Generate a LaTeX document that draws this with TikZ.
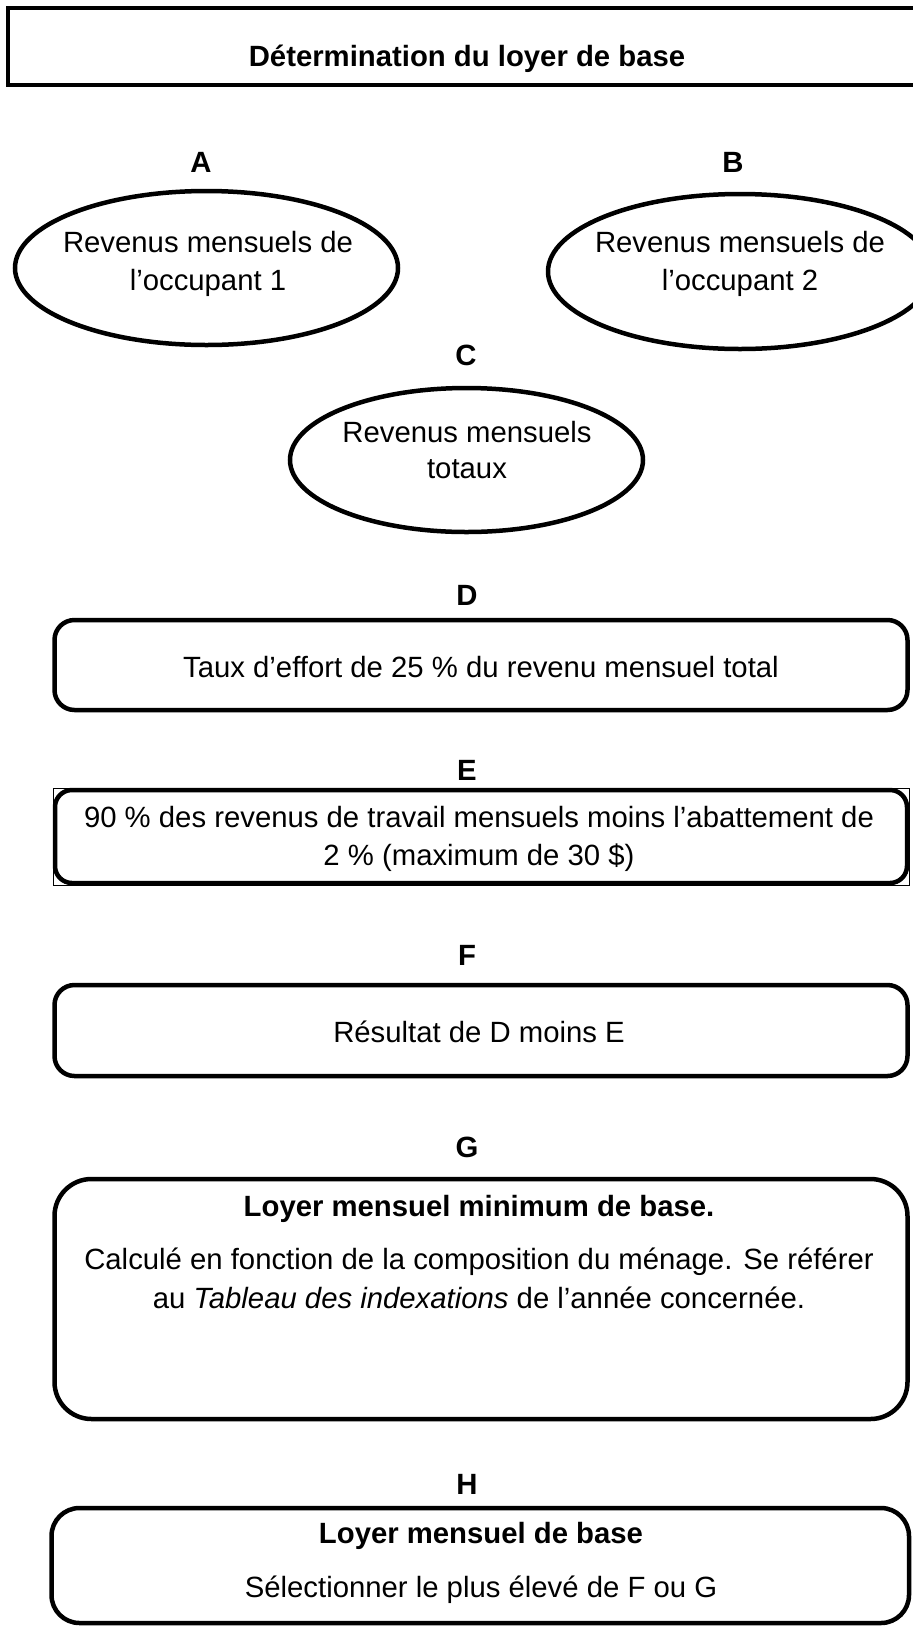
\documentclass[tikz,border=0pt]{standalone}
\usepackage{fontspec}
\setmainfont{Liberation Sans}
\usetikzlibrary{shapes.geometric}
\newcommand\blk[2]{\fontsize{29.3}{#1}\selectfont\begin{tabular}[t]{@{}c@{}}#2\end{tabular}}
\begin{document}
\begin{tikzpicture}[x=1pt,y=-1pt,
  lbl/.style={font=\fontsize{29.3}{35}\selectfont\bfseries, anchor=base, inner sep=0pt},
  txt/.style={font=\fontsize{29.3}{35}\selectfont, anchor=base, inner sep=0pt},
  ell/.style={ellipse, draw=black, line width=4.5pt, inner sep=0pt},
  frame/.style={rectangle, draw=black, line width=4.5pt, inner sep=0pt},
  thinframe/.style={rectangle, draw=black, line width=1pt, inner sep=0pt},
]
\useasboundingbox (0,0) rectangle (913,1626);
\clip (0,0) rectangle (913,1626);

% title
\node[frame, minimum width=922pt, minimum height=77pt] (title) at (469,46.5) {};
\node[lbl] (titletext) at (467,66) {Détermination du loyer de base};

% A, B
\node[lbl] (la) at (201,172) {A};
\node[lbl] (lb) at (733,172) {B};
\node[ell, minimum width=383pt, minimum height=154pt] (A) at (206.5,268) {};
\node[txt] (At) at (208,252) {\blk{38}{Revenus mensuels de\\l’occupant 1}};
\node[ell, minimum width=384pt, minimum height=155pt] (B) at (740,271.5) {};
\node[txt] (Bt) at (740,252) {\blk{38}{Revenus mensuels de\\l’occupant 2}};

% C
\node[lbl] (lc) at (466,365) {C};
\node[ell, minimum width=353pt, minimum height=144pt] (C) at (466.5,460) {};
\node[txt] (Ct) at (467,442) {\blk{36}{Revenus mensuels\\totaux}};

% D
\node[lbl] (ld) at (467,605) {D};
\node[frame, rounded corners=20pt, minimum width=853pt, minimum height=90pt] (D) at (481,665) {};
\node[txt] (Dt) at (481,677) {Taux d’effort de 25 \% du revenu mensuel total};

% E
\node[lbl] (le) at (467,780) {E};
\node[thinframe, minimum width=856.5pt, minimum height=97pt] (Eframe) at (481.25,836.5) {};
\node[frame, rounded corners=17pt, minimum width=852pt, minimum height=93pt] (E) at (481,836.5) {};
\node[txt] (Et) at (479,827) {\blk{38}{90 \% des revenus de travail mensuels moins l’abattement de\\2 \% (maximum de 30 \$)}};

% F
\node[lbl] (lf) at (467,965) {F};
\node[frame, rounded corners=20pt, minimum width=853pt, minimum height=91pt] (F) at (481,1030.5) {};
\node[txt] (Ft) at (479,1042) {Résultat de D moins E};

% G
\node[lbl] (lg) at (467,1157) {G};
\node[frame, rounded corners=37pt, minimum width=853pt, minimum height=240pt] (G) at (481,1299) {};
\node[lbl] (Gh) at (479,1216) {Loyer mensuel minimum de base.};
\node[txt] (Gt) at (479,1269) {\blk{39}{Calculé en fonction de la composition du ménage. Se référer\\au \textit{Tableau des indexations} de l’année concernée.}};

% H
\node[lbl] (lh) at (467,1494) {H};
\node[frame, rounded corners=28pt, minimum width=857.5pt, minimum height=115pt] (H) at (480.25,1565.5) {};
\node[lbl] (Hh) at (481,1543) {Loyer mensuel de base};
\node[txt] (Ht) at (481,1597) {Sélectionner le plus élevé de F ou G};
\end{tikzpicture}
\end{document}
